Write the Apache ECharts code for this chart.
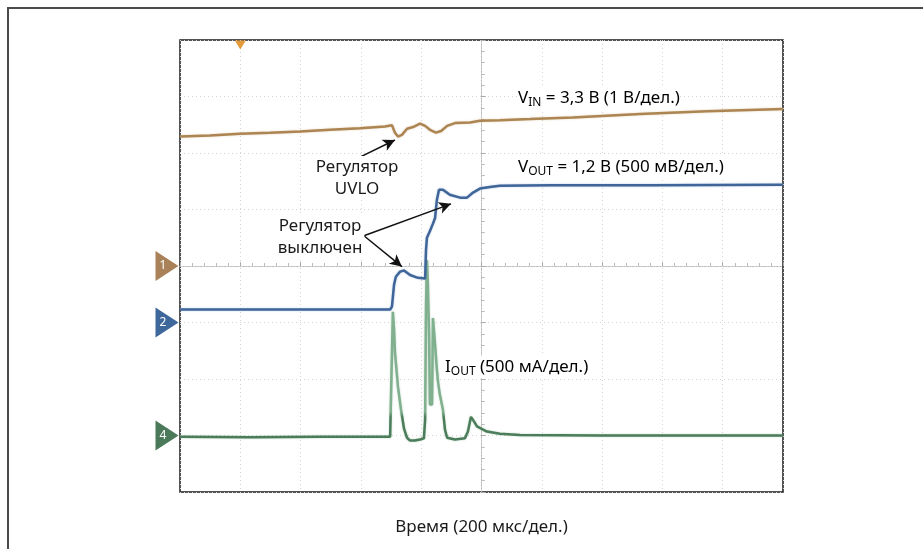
<!DOCTYPE html>
<html><head><meta charset="utf-8">
<script src="https://cdn.jsdelivr.net/npm/echarts@6/dist/echarts.min.js"></script>
<style>html,body{margin:0;padding:0;background:#fff}#c{width:923px;height:549px}</style>
</head><body><div id="c"></div>
<script>
// time in µs (200 µs/div), values in screen divisions
const tVin = [0, 100, 199, 299, 398, 498, 597, 680, 703, 713, 723, 736, 753, 773, 796, 813, 829, 849, 866, 886, 912, 962, 995, 1061, 1161, 1303, 1526, 1748, 2000];
const vin  = [2.29, 2.31, 2.34, 2.36, 2.38, 2.41, 2.44, 2.47, 2.49, 2.36, 2.29, 2.32, 2.43, 2.46, 2.52, 2.48, 2.41, 2.36, 2.39, 2.48, 2.53, 2.54, 2.57, 2.58, 2.60, 2.63, 2.69, 2.74, 2.78];

const tVout = [0, 232, 464, 697, 703, 710, 716, 730, 743, 763, 789, 813, 816, 819, 829, 839, 846, 852, 859, 872, 895, 929, 952, 972, 995, 1028, 1061, 1227, 1559, 2000];
const vout  = [-0.77, -0.77, -0.77, -0.77, -0.72, -0.33, -0.19, -0.10, -0.08, -0.16, -0.21, -0.22, 0.29, 0.50, 0.62, 0.75, 0.85, 1.17, 1.35, 1.35, 1.26, 1.21, 1.21, 1.30, 1.37, 1.40, 1.42, 1.43, 1.43, 1.44];

const tIout = [0, 232, 464, 697, 703, 706, 710, 713, 723, 733, 743, 753, 763, 779, 796, 809, 813, 816, 819, 822, 826, 829, 836, 839, 846, 852, 856, 862, 872, 879, 886, 912, 945, 955, 965, 975, 985, 1018, 1061, 1128, 1393, 1725, 2000];
const iout  = [-3.02, -3.03, -3.02, -3.02, -3.00, -0.81, -1.13, -1.53, -2.14, -2.54, -2.88, -3.04, -3.09, -3.09, -3.07, -3.05, -2.72, -0.70, 0.10, -0.30, -1.18, -2.45, -2.45, -0.92, -1.39, -1.83, -2.06, -2.28, -2.54, -2.90, -3.04, -3.07, -3.05, -2.93, -2.67, -2.75, -2.84, -2.93, -2.97, -2.99, -3.00, -3.00, -3.00];

const channelNames  = ['1', '2', '4'];
const channelLevels = [0, -1, -3];
const triggerTime = 200;

const xAxisTitle = 'Время (200 мкс/дел.)';

const FONT = '"Noto Sans", sans-serif';
const TXT = '#1a1a1a';
const FS = 17;
const zip = (a, b) => a.map((v, i) => [v, b[i]]);

const chart = echarts.init(document.getElementById('c'), null, {renderer: 'canvas'});

function markerItem(i, color) {
  return {
    coord: [0, channelLevels[i]], name: channelNames[i],
    symbol: 'triangle', symbolSize: [30, 23], symbolRotate: -90, symbolOffset: [-13, 0],
    itemStyle: {color: color},
    label: {show: true, formatter: '{b}', color: '#fff', fontSize: 12, fontFamily: FONT, offset: [-4, 0]}
  };
}

const G = {left: 180, top: 40, width: 603, height: 452};
const centerAxisBase = {
  type: 'value', gridIndex: 1,
  axisLabel: {show: false}, splitLine: {show: false},
  axisLine: {show: true, onZero: true, lineStyle: {color: '#b8b8b8', width: 1, type: [1, 2]}},
};
const richStyles = {
  v: {fontSize: FS, fontFamily: FONT, color: TXT, lineHeight: 22},
  s: {fontSize: 12, fontFamily: FONT, color: TXT, lineHeight: 12, verticalAlign: 'bottom'}
};
// lighter colour for the fast edges of the current trace (oscilloscope intensity)
const ioutColor = new echarts.graphic.LinearGradient(0, 0, 0, 1, [
  {offset: 0, color: '#80b08d'}, {offset: 0.83, color: '#80b08d'},
  {offset: 0.86, color: '#4c7d5b'}, {offset: 1, color: '#4c7d5b'}
]);

const option = {
  animation: false,
  backgroundColor: '#fff',
  grid: [
    Object.assign({show: true, borderColor: '#1a1a1a', borderWidth: 1.5, backgroundColor: '#fff'}, G),
    Object.assign({show: false}, G)
  ],
  xAxis: [
    {type: 'value', gridIndex: 0, min: 0, max: 2000, interval: 200,
     axisLine: {show: false}, axisTick: {show: false}, axisLabel: {show: false},
     splitLine: {show: true, lineStyle: {color: '#d4d4d4', width: 1, type: [1, 3]}},
     name: xAxisTitle, nameLocation: 'middle', nameGap: 27,
     nameTextStyle: {fontSize: FS, color: TXT, fontFamily: FONT}},
    Object.assign({}, centerAxisBase, {min: -1000, max: 1000, interval: 200,
      axisTick: {show: true, inside: true, length: 4, lineStyle: {color: '#aaa'}},
      minorTick: {show: true, splitNumber: 5, length: 3, lineStyle: {color: '#bbb'}}}),
    Object.assign({}, centerAxisBase, {min: -1000, max: 1000, interval: 200,
      axisTick: {show: true, inside: false, length: 4, lineStyle: {color: '#aaa'}},
      minorTick: {show: true, splitNumber: 5, length: 3, lineStyle: {color: '#bbb'}}})
  ],
  yAxis: [
    {type: 'value', gridIndex: 0, min: -4, max: 4, interval: 1,
     axisLine: {show: false}, axisTick: {show: false}, axisLabel: {show: false},
     splitLine: {show: true, lineStyle: {color: '#d4d4d4', width: 1, type: [1, 3]}}},
    Object.assign({}, centerAxisBase, {min: -4, max: 4, interval: 1,
      axisTick: {show: true, inside: true, length: 4, lineStyle: {color: '#aaa'}},
      minorTick: {show: true, splitNumber: 5, length: 3, lineStyle: {color: '#bbb'}}}),
    Object.assign({}, centerAxisBase, {min: -4, max: 4, interval: 1,
      axisTick: {show: true, inside: false, length: 4, lineStyle: {color: '#aaa'}},
      minorTick: {show: true, splitNumber: 5, length: 3, lineStyle: {color: '#bbb'}}})
  ],
  series: [
    {type: 'line', name: 'IOUT', xAxisIndex: 0, yAxisIndex: 0, data: zip(tIout, iout),
     showSymbol: false, smooth: false, z: 3, itemStyle: {color: '#4c7d5b'},
     lineStyle: {color: ioutColor, width: 2.5, shadowColor: 'rgba(120,170,135,0.5)', shadowBlur: 2},
     markPoint: {silent: true, data: [markerItem(2, '#4b7a5b')]}},
    {type: 'line', name: 'VOUT', xAxisIndex: 0, yAxisIndex: 0, data: zip(tVout, vout),
     showSymbol: false, smooth: false, z: 4,
     lineStyle: {color: '#3f6599', width: 2.5, shadowColor: 'rgba(110,150,200,0.5)', shadowBlur: 2},
     markPoint: {silent: true, data: [markerItem(1, '#3e679c')]}},
    {type: 'line', name: 'VIN', xAxisIndex: 0, yAxisIndex: 0, data: zip(tVin, vin),
     showSymbol: false, smooth: false, z: 4,
     lineStyle: {color: '#ad8552', width: 2.5, shadowColor: 'rgba(200,170,120,0.5)', shadowBlur: 2},
     markPoint: {
       silent: true,
       data: [
         markerItem(0, '#a9825a'),
         {coord: [triggerTime, 4], name: 'T', symbol: 'triangle', symbolSize: [11, 9], symbolRotate: 180,
          symbolOffset: [0, 5], itemStyle: {color: '#e39a3a'}, label: {show: false}}
       ]
     },
     markLine: {
       silent: true, symbol: ['none', 'arrow'], symbolSize: [9, 12],
       label: {show: false},
       lineStyle: {color: '#111', width: 1.5, type: 'solid'},
       data: [
         [{coord: [590, 1.91]}, {coord: [713, 2.23]}],
         [{coord: [610, 0.535]}, {coord: [736, -0.01]}],
         [{coord: [610, 0.535]}, {coord: [899, 1.10]}]
       ]
     }}
  ],
  graphic: [
    {type: 'polyline', silent: true, shape: {points: [[8, 549], [8, 8], [923, 8]]},
     style: {stroke: '#4a4a4a', lineWidth: 2, fill: null}},
    {type: 'text', x: 357, y: 178, silent: true, z: 100,
     style: {text: 'Регулятор\nUVLO', fill: TXT, font: FS + 'px ' + FONT, align: 'center', verticalAlign: 'middle',
       lineHeight: 22, backgroundColor: '#fff', padding: [0, 2]}},
    {type: 'text', x: 320, y: 237, silent: true, z: 100,
     style: {text: 'Регулятор\nвыключен', fill: TXT, font: FS + 'px ' + FONT, align: 'center', verticalAlign: 'middle',
       lineHeight: 22, backgroundColor: '#fff', padding: [0, 2]}},
    {type: 'text', x: 518, y: 98, silent: true, z: 100,
     style: {text: '{v|V}{s|IN}{v| = 3,3 В (1 В/дел.)}', align: 'left', verticalAlign: 'middle',
       backgroundColor: '#fff', rich: richStyles}},
    {type: 'text', x: 518, y: 167, silent: true, z: 100,
     style: {text: '{v|V}{s|OUT}{v| = 1,2 В (500 мВ/дел.)}', align: 'left', verticalAlign: 'middle',
       backgroundColor: '#fff', rich: richStyles}},
    {type: 'text', x: 445, y: 367, silent: true, z: 100,
     style: {text: '{v|I}{s|OUT}{v| (500 мА/дел.)}', align: 'left', verticalAlign: 'middle',
       backgroundColor: '#fff', rich: richStyles}}
  ]
};
chart.setOption(option);
</script>
</body></html>
